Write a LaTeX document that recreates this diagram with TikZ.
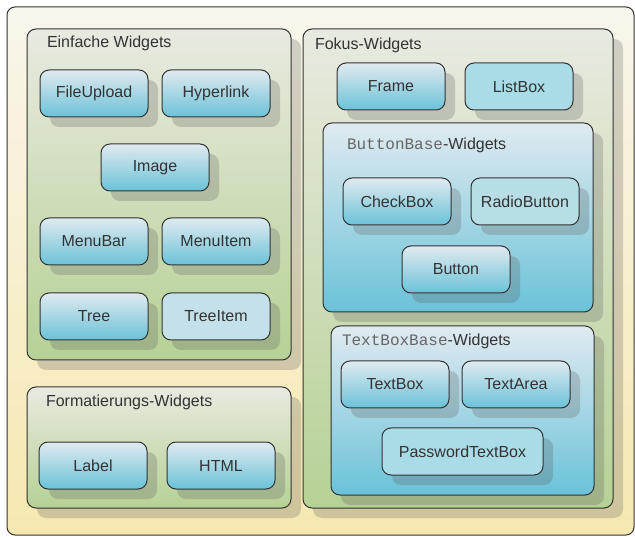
\documentclass[tikz,border=0pt]{standalone}
\usepackage{fontspec}
\setmainfont{Liberation Sans}
\setmonofont{Liberation Mono}
\usepackage{tikz}
\usetikzlibrary{shadows,positioning}
\usepackage{xcolor}
\definecolor{textgray}{HTML}{333333}
\definecolor{codegray}{HTML}{666666}
\definecolor{creamtop}{HTML}{F8F6EC}
\definecolor{creambot}{HTML}{F6E8B0}
\definecolor{greentop}{HTML}{E8EAE0}
\definecolor{greenbot}{HTML}{B6D195}
\definecolor{bluetop}{HTML}{E0EAF0}
\definecolor{bluebot}{HTML}{6AC2D8}
\definecolor{flatA}{HTML}{A9DCE6}
\definecolor{flatB}{HTML}{B7DDE5}
\definecolor{flatC}{HTML}{C4E0E8}
\tikzset{
    shade/.style={
        drop shadow={shadow xshift=10pt,shadow yshift=-10pt,
            fill=gray!70!black,opacity=.25},
    },
    outerbox/.style={
        rectangle, draw=textgray, line width=1pt,
        rounded corners=8pt, anchor=north west,
        top color=creamtop, bottom color=creambot,
    },
    groupbox/.style={
        rectangle, draw=textgray, line width=1pt,
        rounded corners=9pt, anchor=north west, shade,
        top color=greentop, bottom color=greenbot,
    },
    basebox/.style={
        rectangle, draw=textgray, line width=1pt,
        rounded corners=9pt, anchor=north west, shade,
        top color=bluetop, bottom color=bluebot,
    },
    caption/.style={
        anchor=west, inner sep=0pt, text=textgray,
        font=\fontsize{16}{19}\selectfont,
    },
    box/.style={
        rectangle, draw=textgray, line width=1pt,
        rounded corners=9pt, shade, text=textgray,
        minimum width=108pt, minimum height=47pt,
        font=\fontsize{16}{19}\selectfont,
    },
    widget/.style={
        box, top color=bluetop, bottom color=bluebot,
    },
    flatwidget/.style={
        box, fill=#1,
    },
}

\begin{document}
\begin{tikzpicture}[x=1pt,y=-1pt,outer sep=0pt]
    \useasboundingbox (0,0) rectangle (635,537);
    \node [outerbox, minimum width=627pt, minimum height=528pt] (outer) at (7,7) {};

    % linke Seite
    \node [groupbox, minimum width=264pt, minimum height=331pt] (einfach) at (27,29) {};
    \node [caption] (einfachtitle) at (47,43) {Einfache Widgets};
    \node [widget, anchor=north west] (fileupload) at (40,70) {FileUpload};
    \node [widget, right=14pt of fileupload] (hyperlink) {Hyperlink};
    \node [widget, anchor=north west] (image) at (101,144) {Image};
    \node [widget, anchor=north west] (menubar) at (40,218) {MenuBar};
    \node [widget, right=14pt of menubar] (menuitem) {MenuItem};
    \node [widget, anchor=north west] (tree) at (40,293) {Tree};
    \node [flatwidget=flatC, right=14pt of tree] (treeitem) {TreeItem};

    \node [groupbox, minimum width=264pt, minimum height=121pt] (format) at (27,387) {};
    \node [caption] (formattitle) at (46,402) {Formatierungs-Widgets};
    \node [widget, anchor=north west] (label) at (39,442) {Label};
    \node [widget, right=20pt of label] (html) {HTML};

    % rechte Seite
    \node [groupbox, minimum width=310pt, minimum height=479pt] (fokus) at (303,29) {};
    \node [caption] (fokustitle) at (315,45) {Fokus-Widgets};
    \node [widget, anchor=north west] (frame) at (337,63) {Frame};
    \node [flatwidget=flatA, right=20pt of frame] (listbox) {ListBox};

    \node [basebox, minimum width=270pt, minimum height=189pt] (buttonbase) at (323,123) {};
    \node [caption] (buttonbasetitle) at (347,145)
        {\textcolor{codegray}{\texttt{ButtonBase}}-Widgets};
    \node [widget, anchor=north west] (checkbox) at (343,178) {CheckBox};
    \node [flatwidget=flatB, right=20pt of checkbox] (radiobutton) {RadioButton};
    \node [widget, anchor=north west] (button) at (402,246) {Button};

    \node [basebox, minimum width=263pt, minimum height=169pt] (textboxbase) at (331,326) {};
    \node [caption] (textboxbasetitle) at (342,341)
        {\textcolor{codegray}{\texttt{TextBoxBase}}-Widgets};
    \node [widget, anchor=north west] (textbox) at (341,361) {TextBox};
    \node [widget, right=13pt of textbox] (textarea) {TextArea};
    \node [flatwidget=flatA, anchor=north west,
        minimum width=161pt] (password) at (382,428) {PasswordTextBox};
\end{tikzpicture}
\end{document}
